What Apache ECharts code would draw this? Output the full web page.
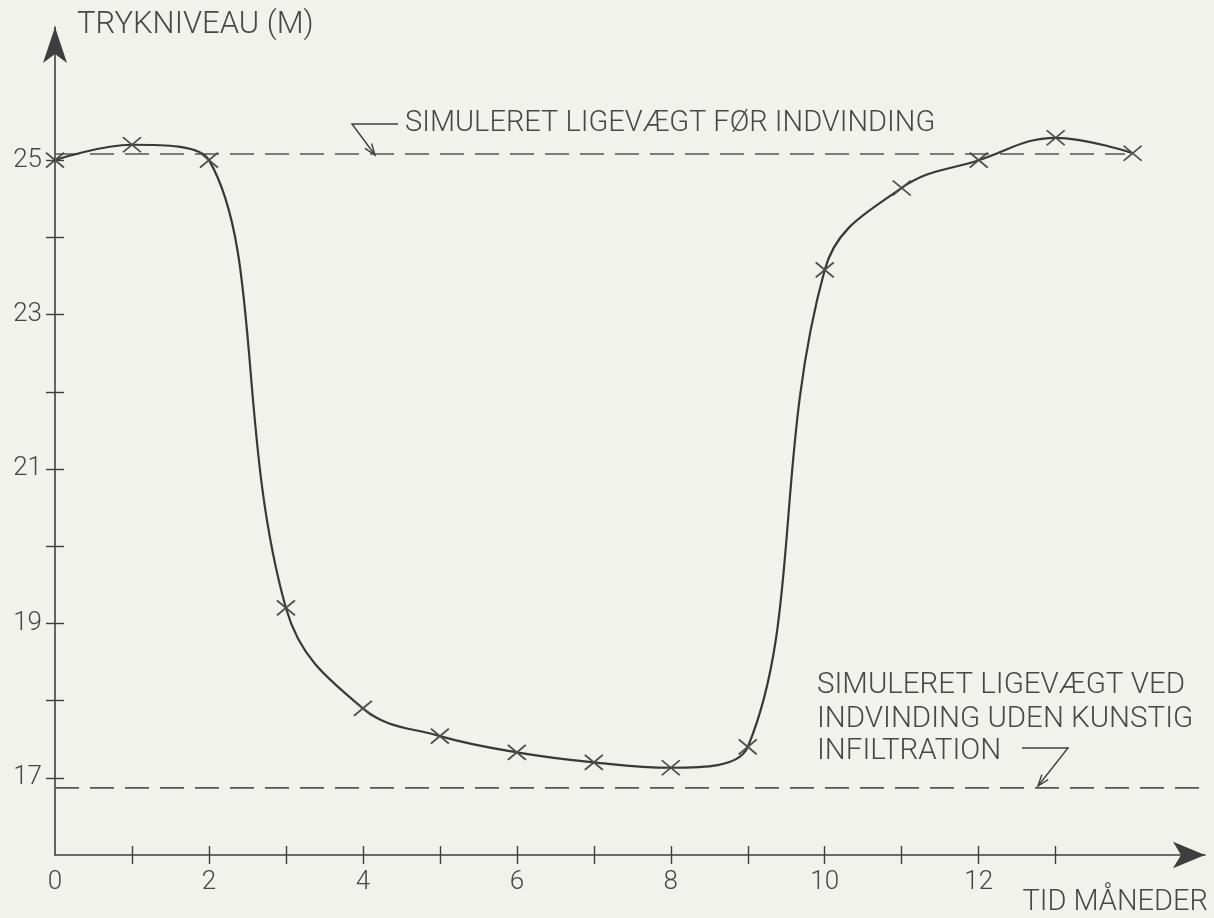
<!DOCTYPE html>
<html>
<head>
<meta charset="utf-8">
<script src="https://cdn.jsdelivr.net/npm/echarts@6/dist/echarts.min.js"></script>
<style>
html,body{margin:0;padding:0;background:#f2f2ec;}
#c{width:1214px;height:918px;}
</style>
</head>
<body>
<div id="c"></div>
<script>
// ---- data ----
const months   = [0, 1, 2, 3, 4, 5, 6, 7, 8, 9, 10, 11, 12, 13, 14];
const pressure = [25.0, 25.2, 25.0, 19.2, 17.9, 17.54, 17.33, 17.2, 17.13, 17.4, 23.58, 24.64, 25.0, 25.29, 25.09];
const eqBeforeX = [0, 13.9];
const eqBeforeY = [25.08, 25.08];
const eqNoInfilX = [0, 14.95];
const eqNoInfilY = [16.87, 16.87];
const xTickValues  = [1, 2, 3, 4, 5, 6, 7, 8, 9, 10, 11, 12, 13];
const xLabelValues = [0, 2, 4, 6, 8, 10, 12];
const yTickValues  = [17, 18, 19, 20, 21, 22, 23, 24, 25];
const yLabelValues = [17, 19, 21, 23, 25];
const xMin = 0, xMax = 14.94, yMin = 16, yMax = 26.725;

// ---- styling ----
const INK = '#3e3e3e';
const TXT = '#474747';
const FONT = 'Roboto';
const crossPath = 'path://M0,0L17,14M17,0L0,14';

const zip = (a, b) => a.map((v, i) => [v, b[i]]);

const chart = echarts.init(document.getElementById('c'), null, {renderer: 'canvas'});

const baseX = {
  type: 'value', min: xMin, max: xMax, position: 'bottom',
  splitLine: {show: false}
};
const baseY = {
  type: 'value', min: yMin, max: yMax, position: 'left',
  splitLine: {show: false}
};

function txt(text, x, y, size, align) {
  return {type: 'text', x: x, y: y, style: {text: text, fontFamily: FONT, fontWeight: 300,
    fontSize: size, fill: TXT, textAlign: align || 'left', textVerticalAlign: 'middle'}};
}

chart.setOption({
  backgroundColor: '#f2f2ec',
  animation: false,
  grid: {left: 55, right: 9, top: 27, bottom: 63, outerBoundsMode: 'none'},
  xAxis: [
    Object.assign({}, baseX, {
      axisLine: {show: true, onZero: false, symbol: ['none', 'arrow'], symbolSize: [20, 32],
        lineStyle: {color: INK, width: 1.6}},
      axisTick: {show: true, inside: false, length: 9, customValues: xTickValues,
        lineStyle: {color: INK, width: 1.4}},
      axisLabel: {show: true, margin: 14, customValues: xLabelValues,
        fontFamily: FONT, fontWeight: 300, fontSize: 26, color: TXT}
    }),
    Object.assign({}, baseX, {
      axisLine: {show: false, onZero: false},
      axisTick: {show: true, inside: true, length: 9, customValues: xTickValues,
        lineStyle: {color: INK, width: 1.4}},
      axisLabel: {show: false}
    })
  ],
  yAxis: [
    Object.assign({}, baseY, {
      axisLine: {show: true, onZero: false, symbol: ['none', 'arrow'], symbolSize: [18, 36],
        lineStyle: {color: INK, width: 1.6}},
      axisTick: {show: true, inside: false, length: 9, customValues: yTickValues,
        lineStyle: {color: INK, width: 1.4}},
      axisLabel: {show: true, margin: 13, customValues: yLabelValues,
        fontFamily: FONT, fontWeight: 300, fontSize: 26, color: TXT}
    }),
    Object.assign({}, baseY, {
      axisLine: {show: false, onZero: false},
      axisTick: {show: true, inside: true, length: 9, customValues: yTickValues,
        lineStyle: {color: INK, width: 1.4}},
      axisLabel: {show: false}
    })
  ],
  series: [
    {
      name: 'eqBefore', type: 'line', xAxisIndex: 0, yAxisIndex: 0,
      data: zip(eqBeforeX, eqBeforeY), symbol: 'none', clip: false, z: 2,
      lineStyle: {color: '#555', width: 1.6, type: [24, 11]}
    },
    {
      name: 'eqNoInfil', type: 'line', xAxisIndex: 0, yAxisIndex: 0,
      data: zip(eqNoInfilX, eqNoInfilY), symbol: 'none', clip: false, z: 2,
      lineStyle: {color: '#555', width: 1.6, type: [24, 11]}
    },
    {
      name: 'pressure', type: 'line', xAxisIndex: 0, yAxisIndex: 0,
      data: zip(months, pressure), smooth: 0.4, clip: false, z: 3,
      symbol: crossPath, symbolSize: [18, 15], showAllSymbol: true,
      lineStyle: {color: '#383838', width: 2.2},
      itemStyle: {color: 'rgba(0,0,0,0)', borderColor: '#4e4e4e', borderWidth: 1.8}
    }
  ],
  graphic: [
    txt('TRYKNIVEAU (M)', 77, 25, 31),
    txt('SIMULERET LIGEVÆGT FØR INDVINDING', 405, 124, 29),
    {type: 'polyline', shape: {points: [[398, 124], [352, 124], [375, 155]]},
      style: {stroke: INK, lineWidth: 1.4, fill: null}},
    {type: 'polyline', shape: {points: [[371.6, 143.5], [375, 155], [365, 148.4]]},
      style: {stroke: INK, lineWidth: 1.4, fill: null}},
    txt('SIMULERET LIGEVÆGT VED', 817, 686, 29.5),
    txt('INDVINDING UDEN KUNSTIG', 817, 720, 29.5),
    txt('INFILTRATION', 817, 752, 29.5),
    {type: 'polyline', shape: {points: [[1022, 748], [1068, 748], [1038, 786]]},
      style: {stroke: INK, lineWidth: 1.4, fill: null}},
    {type: 'polyline', shape: {points: [[1048.2, 779.7], [1038, 786], [1041.8, 774.6]]},
      style: {stroke: INK, lineWidth: 1.4, fill: null}},
    txt('TID MÅNEDER', 1208, 903, 29, 'right')
  ]
});
</script>
</body>
</html>
